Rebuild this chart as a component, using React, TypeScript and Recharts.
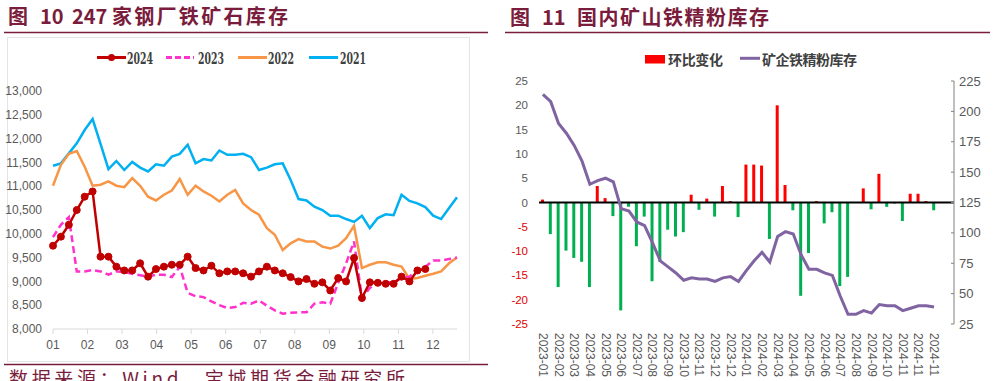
import React from 'react';
import { LineChart, Line, XAxis, YAxis, ComposedChart, Bar, Cell, ReferenceLine } from 'recharts';

// ---------- Figure 10: 247 steel mills iron ore inventory (weekly, 10k t) ----------
const MONTH_LABELS = ['01', '02', '03', '04', '05', '06', '07', '08', '09', '10', '11', '12'];
const WEEKS_PER_MONTH = 4.36;
const LEFT_Y_TICKS = [8000, 8500, 9000, 9500, 10000, 10500, 11000, 11500, 12000, 12500, 13000];

const INV_2021 = [11430, 11480, 11690, 11900, 12180, 12410, 11890, 11360, 11530, 11340, 11510, 11390, 11310, 11460, 11430, 11620, 11680, 11870, 11480, 11570, 11540, 11750, 11660, 11660, 11680, 11610, 11340, 11390, 11460, 11480, 11130, 10730, 10700, 10570, 10500, 10380, 10380, 10310, 10250, 10380, 10120, 10330, 10410, 10390, 10820, 10690, 10640, 10560, 10380, 10310, 10540, 10770];
const INV_2022 = [11010, 11450, 11680, 11740, 11410, 11010, 11030, 11100, 11010, 10980, 11170, 11010, 10780, 10700, 10820, 10910, 11150, 10820, 11010, 10890, 10800, 10680, 10820, 10920, 10640, 10500, 10400, 10120, 9980, 9660, 9800, 9890, 9840, 9840, 9730, 9690, 9750, 9910, 10170, 9280, 9350, 9400, 9400, 9350, 9310, 9050, 9070, 9120, 9160, 9210, 9380, 9500];
const INV_2023 = [9930, 10190, 10350, 9210, 9210, 9240, 9210, 9140, 9210, 9200, 9160, 9130, 9100, 9140, 9140, 9090, 9310, 8760, 8690, 8670, 8580, 8500, 8440, 8460, 8550, 8530, 8600, 8490, 8390, 8320, 8340, 8350, 8350, 8530, 8560, 8530, 8970, 9380, 9840, 8650, 8860, 9000, 8980, 8980, 9070, 9100, 9240, 9310, 9440, 9440, 9470, 9500];
const INV_2024 = [9750, 9940, 10190, 10500, 10780, 10890, 9520, 9520, 9310, 9230, 9230, 9380, 9100, 9260, 9310, 9350, 9350, 9520, 9280, 9230, 9330, 9170, 9210, 9210, 9170, 9100, 9210, 9310, 9230, 9170, 9090, 9000, 9050, 8950, 8980, 8810, 9070, 9000, 9490, 8650, 8980, 8970, 8950, 8950, 9100, 9000, 9230, 9260];

const LEFT_SERIES = [
  { key: 'y2021', name: '2021', color: '#00B0F0', dash: undefined as string | undefined, dot: false },
  { key: 'y2022', name: '2022', color: '#F79646', dash: undefined as string | undefined, dot: false },
  { key: 'y2023', name: '2023', color: '#FF33CC', dash: '7 4', dot: false },
  { key: 'y2024', name: '2024', color: '#C00000', dash: undefined as string | undefined, dot: true },
];

const LEFT_DATA = INV_2021.map((v, w) => ({
  w,
  y2021: v,
  y2022: INV_2022[w] ?? null,
  y2023: INV_2023[w] ?? null,
  y2024: INV_2024[w] ?? null,
}));
const MONTH_TICKS = MONTH_LABELS.map((_, i) => i * WEEKS_PER_MONTH);

// ---------- Figure 11: domestic mine iron concentrate inventory ----------
const TICK_LABELS = ['2023-01', '2023-02', '2023-03', '2023-04', '2023-05', '2023-06', '2023-07', '2023-08', '2023-09', '2023-10', '2023-11', '2023-12', '2023-12', '2024-01', '2024-02', '2024-03', '2024-04', '2024-05', '2024-06', '2024-07', '2024-08', '2024-09', '2024-10', '2024-11', '2024-11', '2024-11'];
const CHANGE = [0.6, -6.5, -17.4, -9.9, -11.4, -12.2, -17.4, 3.4, 0.9, -2.8, -22.2, -0.9, -9.0, -2.9, -16.2, -12.2, -5.6, -7.0, -6.1, 1.6, -1.5, 0.8, -2.9, 3.4, 0.3, -3.0, 7.8, 7.8, 7.6, -7.5, 20.0, 3.6, -1.6, -19.2, -10.4, 0.3, -4.3, -2.0, -17.2, -15.3, 0.1, 2.9, -1.4, 5.9, -0.9, -0.2, -3.8, 1.8, 1.8, 0.3, -1.6];
const STOCK = [214, 208, 190, 182, 172, 159, 140, 143, 145, 142, 120, 118, 109, 106, 92, 77, 72, 67, 61, 63, 62, 62, 60, 63, 64, 60, 69, 77, 84, 76, 97, 101, 99, 82, 70, 70, 67, 65, 48, 33, 33, 36, 34, 41, 40, 40, 36, 38, 40, 40, 39];
const CHANGE_TICKS = [-25, -20, -15, -10, -5, 0, 5, 10, 15, 20, 25];
const STOCK_TICKS = [25, 50, 75, 100, 125, 150, 175, 200, 225];

const RIGHT_DATA = CHANGE.map((c, i) => ({ i, change: c, stock: STOCK[i] }));

// ---------- styles ----------
const MAROON = '#7a1c3c';
const FONT_CJK = '"Noto Sans CJK SC", "Noto Sans", sans-serif';
const FONT_NARROW = '"Liberation Sans Narrow", "Liberation Sans", Arial, sans-serif';
const FONT_SANS = '"Liberation Sans", Arial, sans-serif';
const FONT_LEGEND = '"DejaVu Serif Condensed", "DejaVu Serif", serif';
const AXIS_TEXT = '#595959';
const UP = '#FF0000';
const DOWN = '#00B050';
const PURPLE = '#8064A2';

const DateTick = (props: any) => {
  const { x, y, payload } = props;
  const label = TICK_LABELS[Math.round(payload.value / 2)];
  return (
    <text transform={`translate(${x},${y + 9}) rotate(90)`} textAnchor="start" dominantBaseline="central" fontSize={12} fontFamily={FONT_SANS} fill={AXIS_TEXT}>
      {label}
    </text>
  );
};

const ChangeTick = (props: any) => {
  const { x, y, payload } = props;
  const v = payload.value as number;
  return (
    <text x={x - 11} y={y} textAnchor="end" dominantBaseline="central" fontSize={11.5} fontFamily={FONT_SANS} fill={v < 0 ? '#E00000' : AXIS_TEXT}>
      {v}
    </text>
  );
};

const StockTick = (props: any) => {
  const { x, y, payload } = props;
  return (
    <g>
      <line x1={x - 3} x2={x} y1={y} y2={y} stroke="#808080" strokeWidth={1} />
      <text x={x + 5} y={y} textAnchor="start" dominantBaseline="central" fontSize={13} fontFamily={FONT_SANS} fill={AXIS_TEXT}>
        {payload.value}
      </text>
    </g>
  );
};

export default function App() {
  const legendPos: Record<string, { lx1: number; lx2: number; tx: number }> = {
    y2024: { lx1: 97, lx2: 126, tx: 127 },
    y2023: { lx1: 166, lx2: 194, tx: 198 },
    y2022: { lx1: 238, lx2: 267, tx: 268 },
    y2021: { lx1: 309, lx2: 338, tx: 340 },
  };
  return (
    <div style={{ position: 'fixed', left: 0, top: 0, width: 1004, height: 381, background: '#fff', overflow: 'hidden' }}>
      <svg width={1004} height={381} style={{ position: 'absolute', left: 0, top: 0 }}>
        <rect x={7.5} y={37.5} width={462} height={324} fill="none" stroke="#e4e4e4" strokeWidth={1} />
      </svg>

      <div style={{ position: 'absolute', left: 0, top: 0 }}>
        <LineChart width={480} height={381} data={LEFT_DATA} margin={{ top: 91, right: 23, bottom: 22, left: 8 }}>
          <XAxis
            dataKey="w"
            type="number"
            domain={[0, 51]}
            ticks={MONTH_TICKS}
            interval={0}
            tickFormatter={(_v: number, i: number) => MONTH_LABELS[i]}
            axisLine={{ stroke: '#d9d9d9' }}
            tickLine={{ stroke: '#d9d9d9' }}
            tickSize={5}
            tickMargin={6}
            height={30}
            tick={{ fill: AXIS_TEXT, fontSize: 12, fontFamily: FONT_NARROW }}
          />
          <YAxis
            domain={[8000, 13000]}
            ticks={LEFT_Y_TICKS}
            interval={0}
            width={45}
            axisLine={false}
            tickLine={false}
            tickSize={0}
            tickMargin={11}
            tickFormatter={(v: number) => v.toLocaleString('en-US')}
            tick={{ fill: AXIS_TEXT, fontSize: 12, fontFamily: FONT_NARROW }}
          />
          {LEFT_SERIES.map((s) => (
            <Line
              key={s.key}
              dataKey={s.key}
              name={s.name}
              type="linear"
              stroke={s.color}
              strokeWidth={2.5}
              strokeDasharray={s.dash}
              dot={s.dot ? { r: 3.5, fill: s.color, stroke: s.color, strokeWidth: 1 } : false}
              activeDot={false}
              isAnimationActive={false}
            />
          ))}
        </LineChart>
      </div>

      <div style={{ position: 'absolute', left: 500, top: 0 }}>
        <ComposedChart width={504} height={381} data={RIGHT_DATA} margin={{ top: 81, right: 10, bottom: 7, left: 9 }}>
          <XAxis
            dataKey="i"
            type="category"
            interval={1}
            axisLine={false}
            tickLine={false}
            tickSize={0}
            tickMargin={0}
            height={50}
            padding={{ left: 0, right: 16 }}
            tick={<DateTick />}
          />
          <YAxis yAxisId="l" domain={[-25, 25]} ticks={CHANGE_TICKS} interval={0} width={30} axisLine={false} tickLine={false} tickSize={0} tickMargin={0} tick={<ChangeTick />} />
          <YAxis yAxisId="r" orientation="right" domain={[25, 225]} ticks={STOCK_TICKS} interval={0} width={40} axisLine={{ stroke: '#808080' }} tickLine={false} tickSize={0} tickMargin={0} tick={<StockTick />} />
          <Bar yAxisId="l" dataKey="change" name="环比变化" barSize={3} isAnimationActive={false}>
            {RIGHT_DATA.map((d) => (
              <Cell key={d.i} fill={d.change >= 0 ? UP : DOWN} />
            ))}
          </Bar>
          <ReferenceLine yAxisId="l" y={0} stroke="#000" strokeWidth={2} />
          <Line yAxisId="r" dataKey="stock" name="矿企铁精粉库存" type="linear" stroke={PURPLE} strokeWidth={3} dot={false} activeDot={false} isAnimationActive={false} />
        </ComposedChart>
      </div>

      <svg width={1004} height={381} style={{ position: 'absolute', left: 0, top: 0, pointerEvents: 'none' }}>
        <g fontFamily={FONT_CJK} fontWeight={700} fontSize={20} fill={MAROON}>
          <text x={8} y={24}>图</text>
          <text x={40} y={24}>10</text>
          <text x={72} y={24}>247</text>
          <text x={112} y={24} textLength={176} lengthAdjust="spacing">家钢厂铁矿石库存</text>
          <text x={510} y={25}>图</text>
          <text x={542} y={25}>11</text>
          <text x={577} y={25} textLength={192} lengthAdjust="spacing">国内矿山铁精粉库存</text>
        </g>
        <line x1={4} x2={488} y1={32.5} y2={32.5} stroke={MAROON} strokeWidth={1.3} />
        <line x1={505} x2={990} y1={32.5} y2={32.5} stroke={MAROON} strokeWidth={1.3} />
        <line x1={4} x2={488} y1={364.5} y2={364.5} stroke={MAROON} strokeWidth={1.3} />
        <text x={9} y={386} fontFamily={FONT_CJK} fontSize={19} fill={MAROON} textLength={396} lengthAdjust="spacing">数据来源：Wind，宝城期货金融研究所</text>

        {[...LEFT_SERIES].reverse().map((s) => {
          const p = legendPos[s.key];
          return (
            <g key={s.key}>
              <line x1={p.lx1} x2={p.lx2} y1={57.5} y2={57.5} stroke={s.color} strokeWidth={3} strokeDasharray={s.dash ? '6 3' : undefined} />
              {s.dot && <circle cx={(p.lx1 + p.lx2) / 2} cy={57.5} r={3.5} fill={s.color} />}
              <text x={p.tx} y={64} fontFamily={FONT_LEGEND} fontWeight={700} fontSize={17} fill="#404040" textLength={26} lengthAdjust="spacingAndGlyphs">{s.name}</text>
            </g>
          );
        })}

        <rect x={645} y={55} width={20} height={8.5} fill={UP} />
        <text x={668} y={65} fontFamily={FONT_CJK} fontWeight={700} fontSize={14} fill="#404040" textLength={55} lengthAdjust="spacing">环比变化</text>
        <line x1={740} x2={760} y1={58.3} y2={58.3} stroke={PURPLE} strokeWidth={3} />
        <text x={762} y={65} fontFamily={FONT_CJK} fontWeight={700} fontSize={14} fill="#404040" textLength={95} lengthAdjust="spacing">矿企铁精粉库存</text>
      </svg>
    </div>
  );
}
